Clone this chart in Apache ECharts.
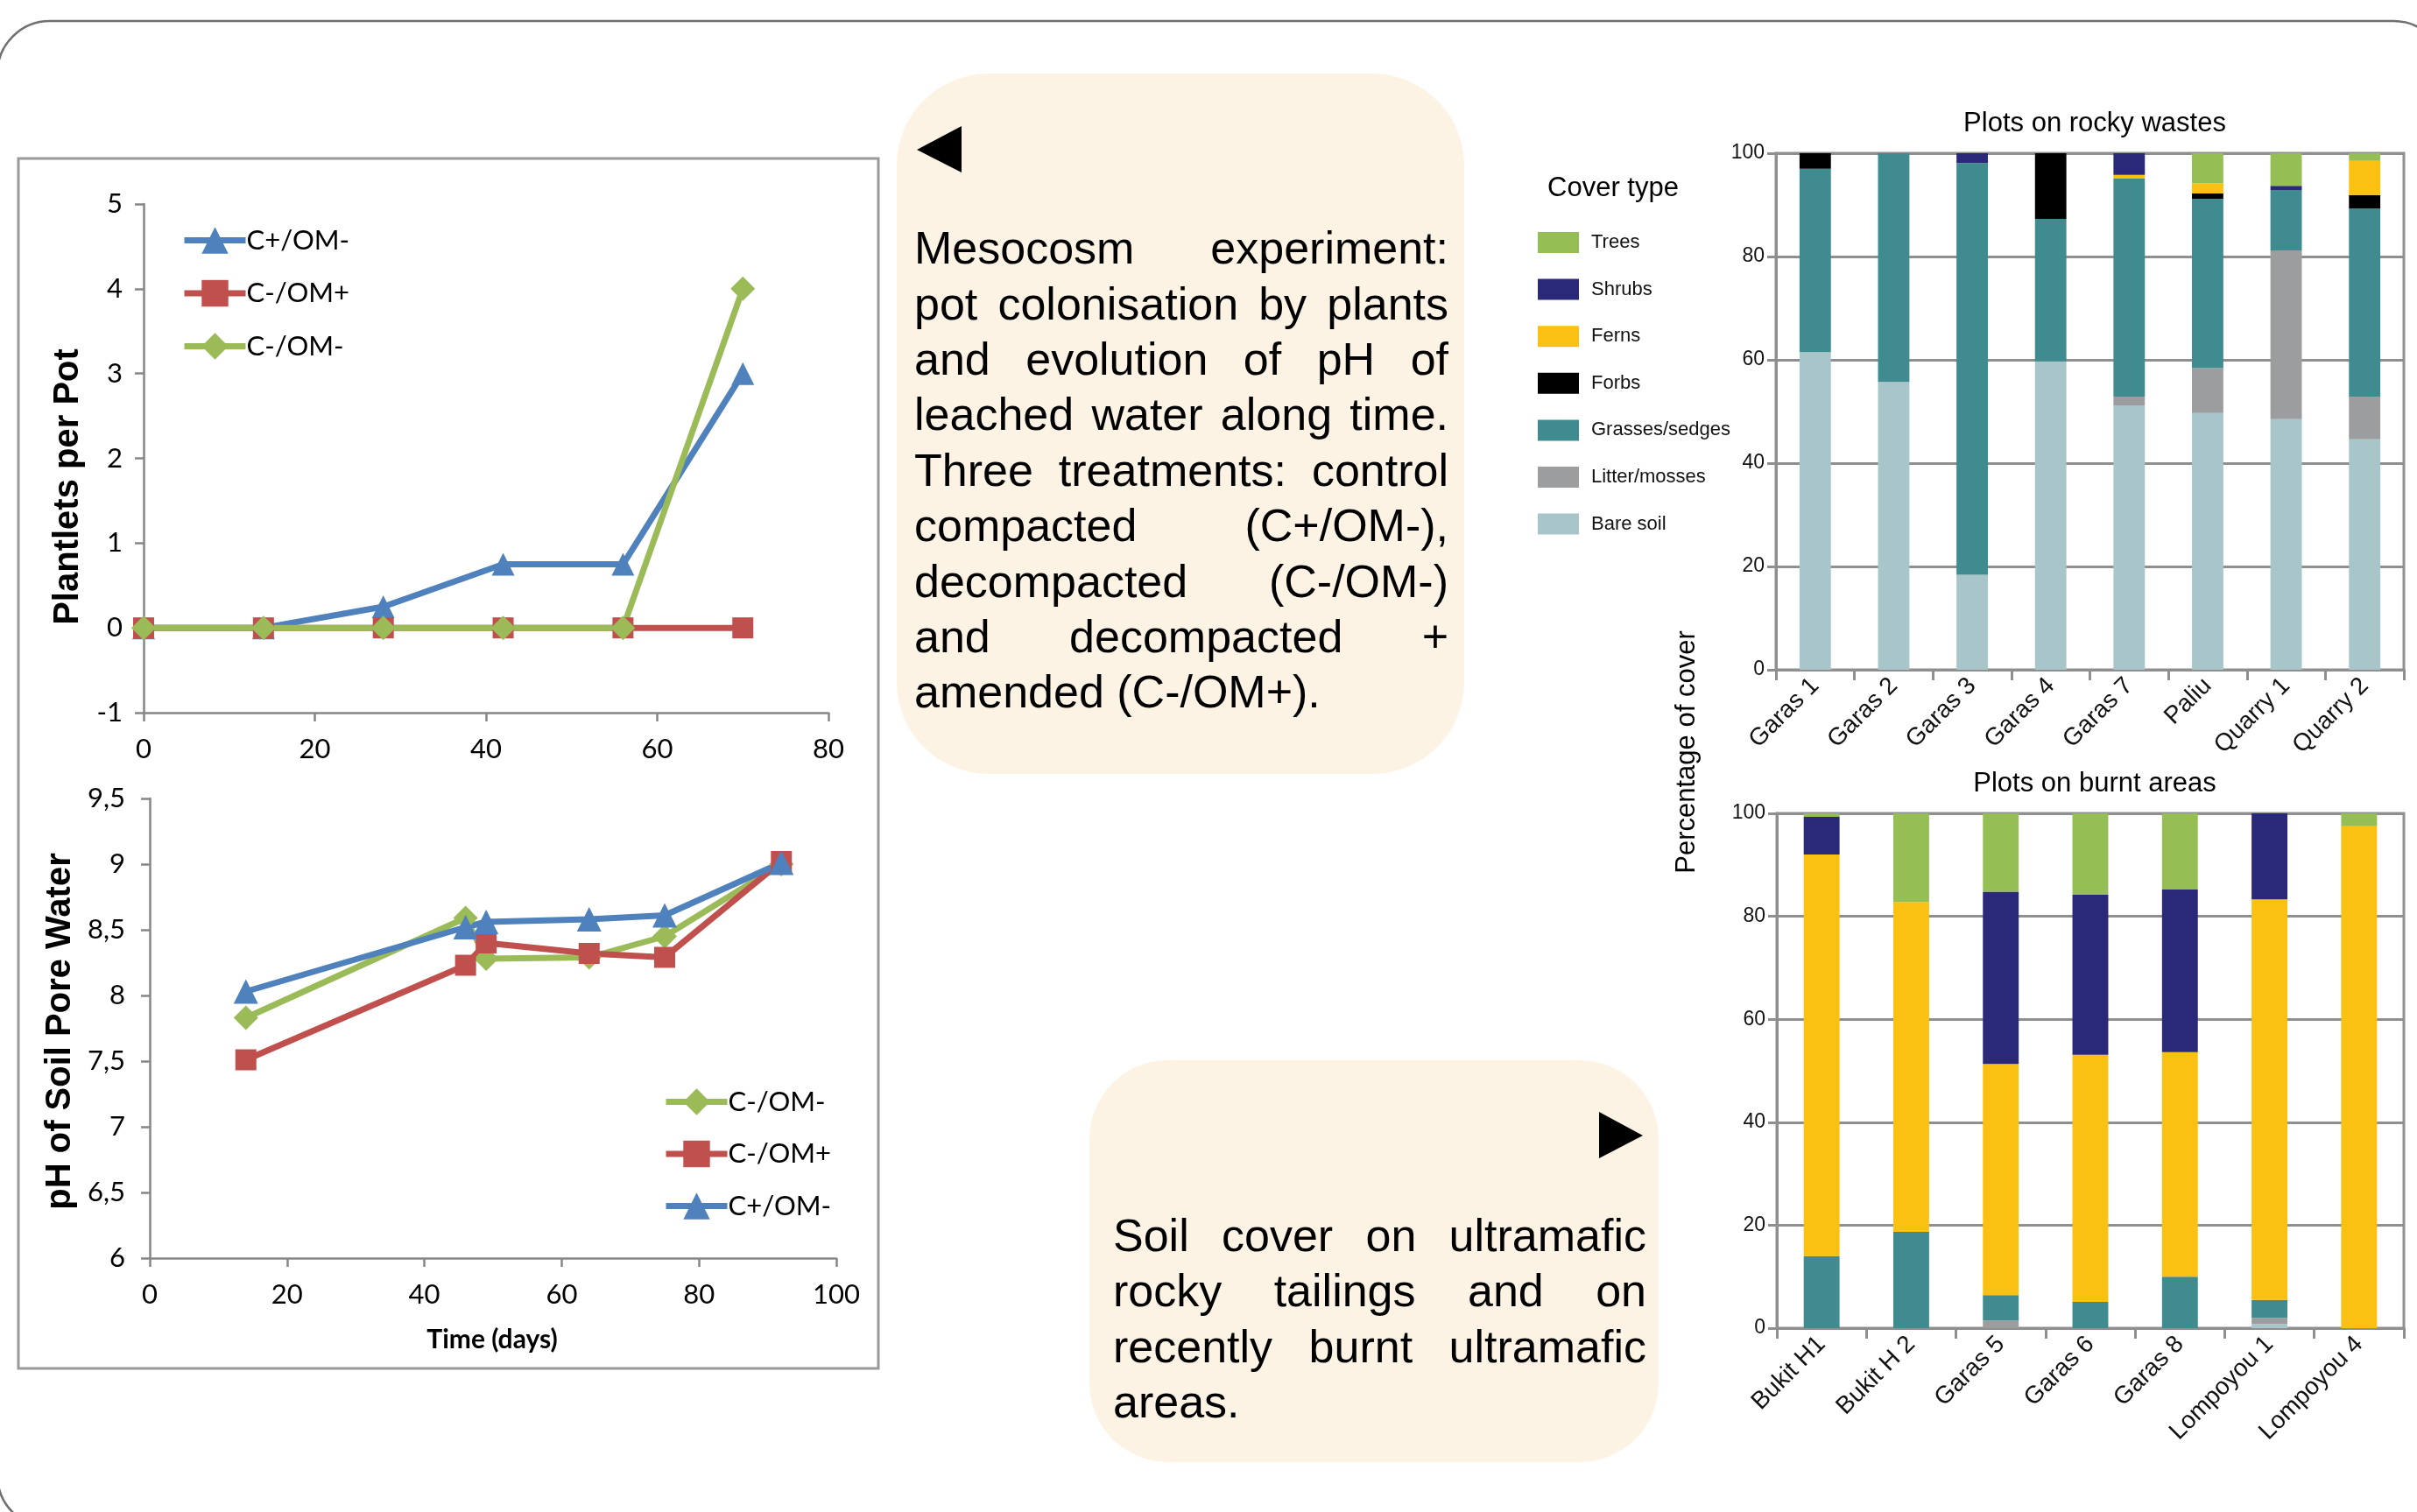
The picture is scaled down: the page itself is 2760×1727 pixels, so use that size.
<!DOCTYPE html>
<html><head><meta charset="utf-8">
<script src="https://cdn.jsdelivr.net/npm/echarts@6/dist/echarts.min.js"></script>
<style>html,body{margin:0;padding:0;background:#fff}#c{width:2760px;height:1727px}</style>
</head><body><div id="c"></div><script>
// ---------- data ----------
const plantDays = [0, 14, 28, 42, 56, 70];
const plantCpOMm = [0, 0, 0.25, 0.75, 0.75, 3];
const plantCmOMp = [0, 0, 0, 0, 0, 0];
const plantCmOMm = [0, 0, 0, 0, 0, 4];

const phDays = [14, 46, 49, 64, 75, 92];
const phCmOMm = [7.83, 8.59, 8.28, 8.29, 8.45, 9.0];
const phCmOMp = [7.51, 8.23, 8.40, 8.32, 8.29, 9.02];
const phCpOMm = [8.03, 8.52, 8.56, 8.58, 8.61, 9.01];

const plantTicksY = [-1, 0, 1, 2, 3, 4, 5];
const phTicksY = ['6', '6,5', '7', '7,5', '8', '8,5', '9', '9,5'];

const rockyCats = ['Garas 1', 'Garas 2', 'Garas 3', 'Garas 4', 'Garas 7', 'Paliu', 'Quarry 1', 'Quarry 2'];
const rockyBare    = [61.5, 55.7, 18.4, 59.7, 51.2, 49.7, 48.5, 44.6];
const rockyLitter  = [0, 0, 0, 0, 1.7, 8.7, 32.7, 8.3];
const rockyGrasses = [35.5, 44.3, 79.7, 27.6, 42.2, 32.8, 11.7, 36.4];
const rockyForbs   = [3.0, 0, 0, 12.7, 0, 1.0, 0, 2.6];
const rockyFerns   = [0, 0, 0, 0, 0.7, 2.0, 0, 6.6];
const rockyShrubs  = [0, 0, 1.9, 0, 4.2, 0, 0.8, 0];
const rockyTrees   = [0, 0, 0, 0, 0, 5.8, 6.3, 1.5];

const burntCats = ['Bukit H1', 'Bukit H 2', 'Garas 5', 'Garas 6', 'Garas 8', 'Lompoyou 1', 'Lompoyou 4'];
const burntBare    = [0, 0, 0, 0, 0, 0.8, 0];
const burntLitter  = [0, 0, 1.5, 0, 0, 1.2, 0];
const burntGrasses = [14.0, 18.7, 4.9, 5.1, 10.0, 3.5, 0];
const burntForbs   = [0, 0, 0, 0, 0, 0, 0];
const burntFerns   = [78.0, 64.1, 44.9, 48.0, 43.6, 77.8, 97.5];
const burntShrubs  = [7.3, 0, 33.5, 31.1, 31.6, 16.7, 0];
const burntTrees   = [0.7, 17.2, 15.2, 15.8, 14.8, 0, 2.5];

const coverNames = ['Bare soil', 'Litter/mosses', 'Grasses/sedges', 'Forbs', 'Ferns', 'Shrubs', 'Trees'];
const coverColors = ['#A8C6C9', '#9C9D9E', '#3F8B8F', '#000000', '#FAC012', '#2A2878', '#95BF55'];

const text1Lines = ['Mesocosm experiment:', 'pot colonisation by plants', 'and evolution of pH of',
  'leached water along time.', 'Three treatments: control', 'compacted (C+/OM-),',
  'decompacted (C-/OM-)', 'and decompacted +', 'amended (C-/OM+).'];
const text2Lines = ['Soil cover on ultramafic', 'rocky tailings and on', 'recently burnt ultramafic', 'areas.'];

// ---------- helpers ----------
const BLUE = '#4F81BD', RED = '#C0504D', GREEN = '#9BBB59';
const AXC = '#868686';
const NUM_FONT = 'Lato';
const ARIAL = '"Liberation Sans", Arial, sans-serif';
const mctx = document.createElement('canvas').getContext('2d');

function justify(lines, left, right, base0, lh, size) {
  const out = [];
  mctx.font = size + 'px "Liberation Sans"';
  lines.forEach((line, i) => {
    const y = base0 + i * lh - size * 0.33;
    const words = line.split(' ');
    if (i === lines.length - 1 || words.length < 2) {
      out.push({type: 'text', z: 10, style: {text: line, x: left, y: y, fontSize: size, fontFamily: ARIAL,
        fill: '#000', align: 'left', verticalAlign: 'middle'}});
      return;
    }
    const ws = words.map(w => mctx.measureText(w).width);
    const tot = ws.reduce((a, b) => a + b, 0);
    const gap = (right - left - tot) / (words.length - 1);
    let x = left;
    words.forEach((w, k) => {
      out.push({type: 'text', z: 10, style: {text: w, x: x, y: y, fontSize: size, fontFamily: ARIAL,
        fill: '#000', align: 'left', verticalAlign: 'middle'}});
      x += ws[k] + gap;
    });
  });
  return out;
}
const zip = (xs, ys) => xs.map((x, i) => [x, ys[i]]);

function lineSeries(name, days, vals, color, symbol, size, idx) {
  return {type: 'line', name: name, xAxisIndex: idx, yAxisIndex: idx, data: zip(days, vals),
    symbol: symbol, symbolSize: size, lineStyle: {width: 7, color: color},
    itemStyle: {color: color}, emphasis: {disabled: true}};
}

function valAxis(grid, min, max, interval, margin, fmt) {
  return {gridIndex: grid, type: 'value', min: min, max: max, interval: interval,
    axisLine: {show: true, onZero: false, lineStyle: {color: AXC, width: 2.5}},
    axisTick: {show: true, length: 10, lineStyle: {color: AXC, width: 2.5}},
    splitLine: {show: false},
    axisLabel: {fontFamily: NUM_FONT, fontSize: 31, color: '#000', margin: margin, formatter: fmt}};
}

const barAxisStyle = {color: '#8f8f8f', width: 3};
function catAxis(grid, cats) {
  return {gridIndex: grid, type: 'category', data: cats,
    axisLine: {show: true, lineStyle: barAxisStyle},
    axisTick: {show: true, alignWithLabel: false, length: 12, lineStyle: barAxisStyle},
    axisLabel: {rotate: 45, interval: 0, fontSize: 28, fontFamily: ARIAL, color: '#111', margin: 14}};
}
function pctAxis(grid) {
  return {gridIndex: grid, type: 'value', min: 0, max: 100, interval: 20,
    axisLine: {show: true, lineStyle: barAxisStyle},
    axisTick: {show: true, length: 10, lineStyle: barAxisStyle},
    splitLine: {show: true, lineStyle: barAxisStyle},
    axisLabel: {fontSize: 23, fontFamily: ARIAL, color: '#111', margin: 13}};
}

const rockyData = [rockyBare, rockyLitter, rockyGrasses, rockyForbs, rockyFerns, rockyShrubs, rockyTrees];
const burntData = [burntBare, burntLitter, burntGrasses, burntForbs, burntFerns, burntShrubs, burntTrees];
const barSeries = [];
coverNames.forEach((n, i) => {
  barSeries.push({type: 'bar', name: n, stack: 'rocky', xAxisIndex: 2, yAxisIndex: 2, barWidth: '40%',
    data: rockyData[i], itemStyle: {color: coverColors[i]}, emphasis: {disabled: true}});
});
coverNames.forEach((n, i) => {
  barSeries.push({type: 'bar', name: n, stack: 'burnt', xAxisIndex: 3, yAxisIndex: 3, barWidth: '40%',
    data: burntData[i], itemStyle: {color: coverColors[i]}, emphasis: {disabled: true}});
});

const graphics = [
  {type: 'rect', z: 0, shape: {x: -3, y: 24, width: 2796, height: 1721, r: 60},
    style: {fill: 'none', stroke: '#6f6f6f', lineWidth: 2.5}},
  {type: 'rect', z: 0, shape: {x: 21, y: 181, width: 982, height: 1382},
    style: {fill: 'none', stroke: '#9a9a9a', lineWidth: 3}},
  {type: 'rect', z: 1, shape: {x: 1024, y: 84, width: 648, height: 800, r: 105},
    style: {fill: '#FDF3E5'}},
  {type: 'rect', z: 1, shape: {x: 1244, y: 1211, width: 650, height: 459, r: 90},
    style: {fill: '#FDF3E5'}},
  {type: 'polygon', z: 10, shape: {points: [[1047, 171], [1098, 144], [1098, 197]]}, style: {fill: '#000'}},
  {type: 'polygon', z: 10, shape: {points: [[1826, 1270], [1876, 1297], [1826, 1323]]}, style: {fill: '#000'}},
  {type: 'text', z: 10, x: 78, y: 556, rotation: Math.PI / 2,
    style: {text: 'Plantlets per Pot', fontSize: 40, fontWeight: 'bold', fontFamily: ARIAL, fill: '#000',
      align: 'center', verticalAlign: 'middle'}},
  {type: 'text', z: 10, x: 69, y: 1178, rotation: Math.PI / 2,
    style: {text: 'pH of Soil Pore Water', fontSize: 40, fontWeight: 'bold', fontFamily: ARIAL, fill: '#000',
      align: 'center', verticalAlign: 'middle'}},
  {type: 'text', z: 10, style: {text: 'Time (days)', x: 562, y: 1530, fontSize: 30, fontWeight: 'bold',
    fontFamily: NUM_FONT, fill: '#000', align: 'center', verticalAlign: 'middle'}},
  {type: 'text', z: 10, style: {text: 'Plots on rocky wastes', x: 2392, y: 141, fontSize: 31,
    fontFamily: ARIAL, fill: '#000', align: 'center', verticalAlign: 'middle'}},
  {type: 'text', z: 10, style: {text: 'Plots on burnt areas', x: 2392, y: 895, fontSize: 31,
    fontFamily: ARIAL, fill: '#000', align: 'center', verticalAlign: 'middle'}},
  {type: 'text', z: 10, x: 1926, y: 859, rotation: Math.PI / 2,
    style: {text: 'Percentage of cover', fontSize: 31, fontFamily: ARIAL, fill: '#000',
      align: 'center', verticalAlign: 'middle'}},
  {type: 'text', z: 10, style: {text: 'Cover type', x: 1842, y: 215, fontSize: 31,
    fontFamily: ARIAL, fill: '#000', align: 'center', verticalAlign: 'middle'}}
].concat(justify(text1Lines, 1044, 1654, 304, 63.4, 52))
 .concat(justify(text2Lines, 1271, 1880, 1432, 63.3, 52));

const lineLegendCommon = {orient: 'vertical', itemWidth: 70, itemHeight: 38, selectedMode: false,
  lineStyle: {width: 7}, textStyle: {fontFamily: NUM_FONT, fontSize: 31, color: '#000', padding: [0, 0, 0, -4]}};

const option = {
  animation: false,
  backgroundColor: '#fff',
  grid: [
    {left: 164, right: 1814, top: 233, bottom: 913},
    {left: 171, right: 1805, top: 912, bottom: 290},
    {left: 2028, right: 15, top: 175, bottom: 962, show: true, borderColor: '#8f8f8f', borderWidth: 3},
    {left: 2029, right: 15, top: 929, bottom: 210, show: true, borderColor: '#8f8f8f', borderWidth: 3}
  ],
  xAxis: [
    valAxis(0, 0, 80, 20, 26),
    valAxis(1, 0, 100, 20, 26),
    catAxis(2, rockyCats),
    catAxis(3, burntCats)
  ],
  yAxis: [
    valAxis(0, plantTicksY[0], plantTicksY[plantTicksY.length - 1], 1, 24),
    valAxis(1, 6, 9.5, 0.5, 28, v => phTicksY[Math.round((v - 6) * 2)]),
    pctAxis(2),
    pctAxis(3)
  ],
  legend: [
    Object.assign({left: 202, top: 254, itemGap: 29.5, data: ['C+/OM-', 'C-/OM+', 'C-/OM-']}, lineLegendCommon),
    Object.assign({left: 752, top: 1238, itemGap: 28.5, data: ['C-/OM-', 'C-/OM+', 'C+/OM-']}, lineLegendCommon),
    {orient: 'vertical', left: 1751, top: 260, itemWidth: 47, itemHeight: 24, itemGap: 29.6, icon: 'rect',
      data: coverNames.slice().reverse(), selectedMode: false,
      textStyle: {fontFamily: ARIAL, fontSize: 22, color: '#111', padding: [0, 0, 0, 9]}}
  ],
  graphic: graphics,
  series: [
    lineSeries('C+/OM-', plantDays, plantCpOMm, BLUE, 'triangle', 26, 0),
    lineSeries('C-/OM+', plantDays, plantCmOMp, RED, 'rect', 24, 0),
    lineSeries('C-/OM-', plantDays, plantCmOMm, GREEN, 'diamond', 28, 0),
    lineSeries('C-/OM-', phDays, phCmOMm, GREEN, 'diamond', 28, 1),
    lineSeries('C-/OM+', phDays, phCmOMp, RED, 'rect', 24, 1),
    lineSeries('C+/OM-', phDays, phCpOMm, BLUE, 'triangle', 28, 1)
  ].concat(barSeries)
};
const chart = echarts.init(document.getElementById('c'), null, {renderer: 'canvas'});
chart.setOption(option);
</script></body></html>
